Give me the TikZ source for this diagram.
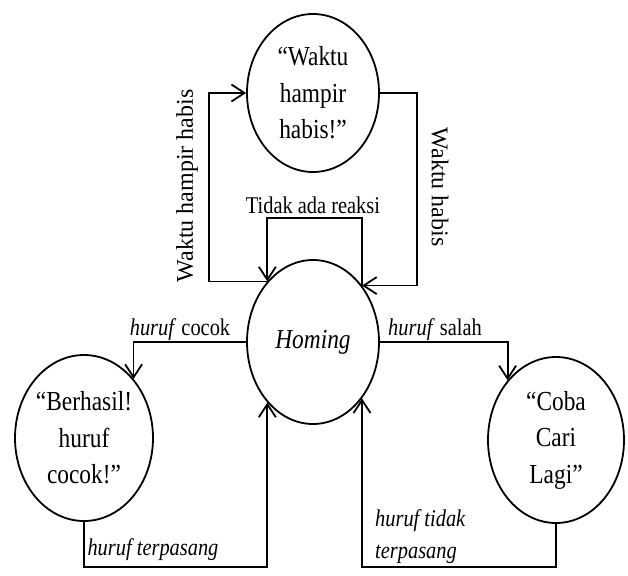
\documentclass[tikz,border=0pt]{standalone}
\usepackage{fontspec}
\setmainfont{Liberation Serif}
\newfontfamily\nf[FakeStretch=0.85]{Liberation Serif}
\usetikzlibrary{shapes.geometric,arrows.meta}
\begin{document}
\begin{tikzpicture}[x=1pt,y=-1pt,
 st/.style={ellipse,draw,line width=1.8pt,inner sep=0pt,align=center,font=\nf\fontsize{27.5}{36.5}\selectfont},
 conn/.style={line width=1.8pt,-{Straight Barb[length=13pt,width=17pt]}},
 lab/.style={font=\nf\fontsize{24}{32}\selectfont,inner sep=0pt},
 vlab/.style={font=\fontsize{24}{28}\selectfont,inner sep=0pt}]
\useasboundingbox (0,0) rectangle (628,575);
\node[st,minimum width=132pt,minimum height=158pt] (top) at (313,93) {“Waktu\\hampir\\habis!”};
\node[st,minimum width=132pt,minimum height=164pt] (home) at (313,342) {\textit{Homing}};
\node[st,minimum width=138pt,minimum height=166pt] (ok) at (84,438) {“Berhasil!\\huruf\\cocok!”};
\node[st,minimum width=136pt,minimum height=166pt] (cb) at (556,440) {“Coba\\Cari\\Lagi”};
\node[lab] (l1) at (180,330) {\textit{huruf} cocok};
\node[lab] (l2) at (435,330) {\textit{huruf} salah};
\node[lab] (l3) at (153,550) {\textit{huruf terpasang}};
\node[lab,align=left,anchor=west] (l4) at (375,537) {\textit{huruf tidak}\\\textit{terpasang}};
\node[lab] (l5) at (313,205) {Tidak ada reaksi};
\node[vlab,rotate=90] (l6) at (187,186) {Waktu hampir habis};
\node[vlab,rotate=-90] (l7) at (440,187) {Waktu habis};
\coordinate (lc) at (209,200);
\coordinate (rc) at (417,200);
\coordinate (lp) at (313,218);
\coordinate (bl) at (180,567);
\coordinate (br) at (460,567);
\draw[conn] (home.127.9) -| (lc) |- (top.west);
\draw[conn] (top.east) -| (rc) |- (home.49.6);
\draw[conn] (home.49.6) |- (lp) -| (home.127.9);
\draw[conn] (home.west) -| (ok.50);
\draw[conn] (home.east) -| (cb.129.2);
\draw[conn] (ok.south) |- (bl) -| (home.-127.9);
\draw[conn] (cb.south) |- (br) -| (home.-49.6);
\end{tikzpicture}
\end{document}
